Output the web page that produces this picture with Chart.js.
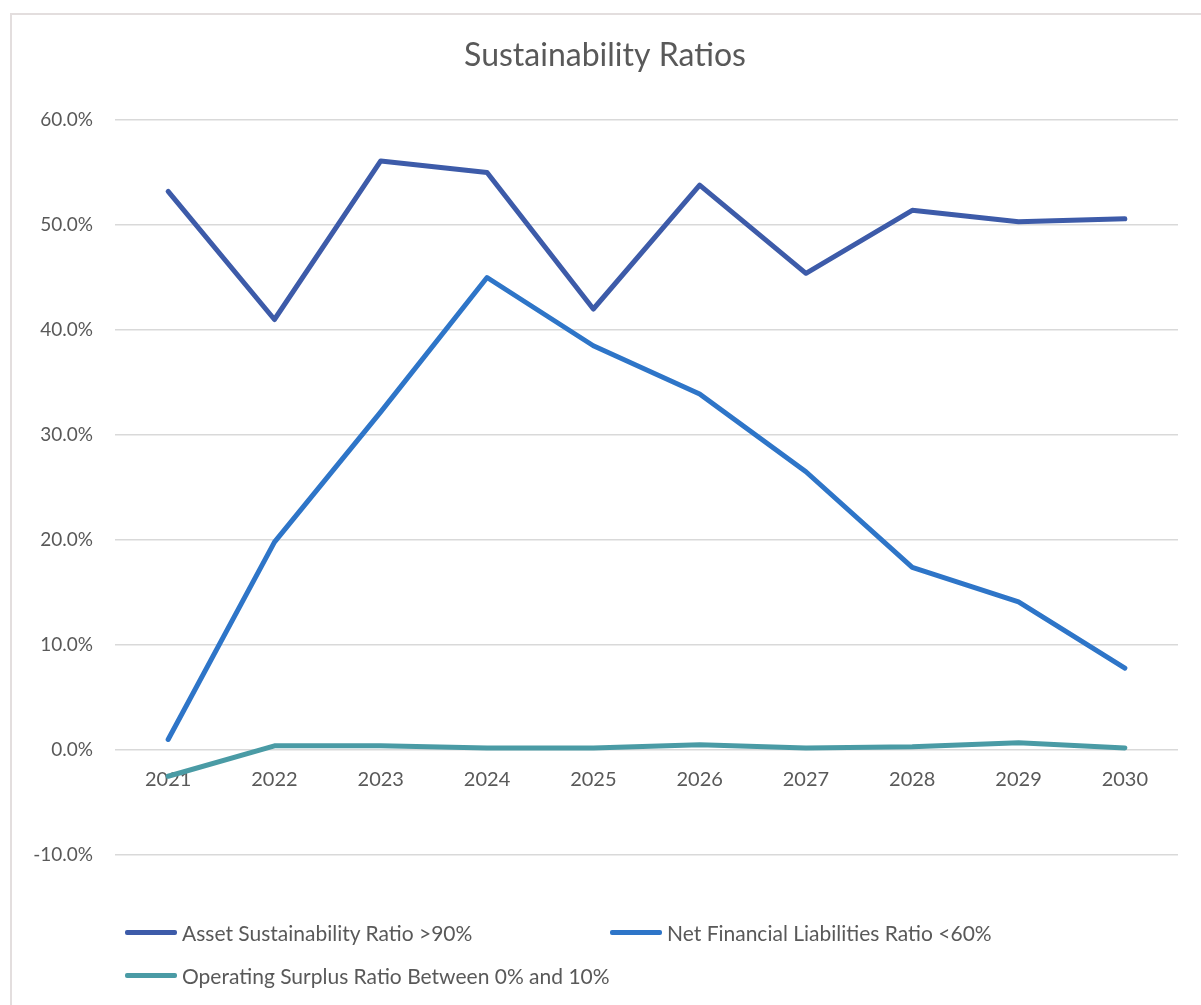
<!DOCTYPE html>
<html>
<head>
<meta charset="utf-8">
<script src="https://cdn.jsdelivr.net/npm/chart.js@4/dist/chart.umd.min.js"></script>
<style>
  html, body { margin: 0; padding: 0; background: #fff; }
  #wrap { position: relative; width: 1201px; height: 1005px; }
  #frame { position: absolute; left: 10px; top: 13px; right: 0; bottom: 0;
           border-left: 2px solid #e3dede; border-top: 2px solid #e3dede; }
  #ratiosChart { position: absolute; left: 0; top: 0; }
  #legend { position: absolute; left: 125px; top: 911px; display: grid;
            grid-template-columns: 485px 485px; grid-auto-rows: 43px;
            font-family: Lato, 'Noto Sans', sans-serif; font-size: 21px; color: #595959; }
  .item { display: flex; align-items: center; height: 43px; }
  .swatch { width: 52px; height: 5px; border-radius: 2px; margin-right: 5px; }
</style>
</head>
<body>
<div id="wrap">
  <div id="frame"></div>
  <canvas id="ratiosChart" width="1201" height="1005"></canvas>
  <div id="legend"></div>
</div>
<script>
const years = ['2021', '2022', '2023', '2024', '2025', '2026', '2027', '2028', '2029', '2030']
const assetSustainability = [53.2, 41.0, 56.1, 55.0, 42.0, 53.8, 45.4, 51.4, 50.3, 50.6]
const netFinancialLiabilities = [1.0, 19.8, 32.2, 45.0, 38.5, 33.9, 26.5, 17.4, 14.1, 7.8]
const operatingSurplus = [-2.5, 0.4, 0.4, 0.2, 0.2, 0.5, 0.2, 0.3, 0.7, 0.2]
const yTicks = [-10, 0, 10, 20, 30, 40, 50, 60]

const textGrey = '#595959'

const data = {
  labels: years,
  datasets: [{
    label: 'Asset Sustainability Ratio >90%',
    data: assetSustainability,
    borderColor: '#3d5ba9',
    backgroundColor: '#3d5ba9'
  },
  {
    label: 'Net Financial Liabilities Ratio <60%',
    data: netFinancialLiabilities,
    borderColor: '#2e75c8',
    backgroundColor: '#2e75c8'
  },
  {
    label: 'Operating Surplus Ratio Between 0% and 10%',
    data: operatingSurplus,
    borderColor: '#4a9ba5',
    backgroundColor: '#4a9ba5'
  }]
};

const ratiosConfig = {
  type: 'line',
  data: data,
  options: {
    responsive: false,
    animation: false,
    layout: { padding: { left: 32, right: 23, top: 0, bottom: 150 } },
    elements: {
      line: { borderWidth: 5, tension: 0, borderCapStyle: 'round', borderJoinStyle: 'round' },
      point: { radius: 0 }
    },
    plugins: {
      legend: { display: false },
      tooltip: { enabled: false },
      title: {
        display: true,
        text: 'Sustainability Ratios',
        color: textGrey,
        font: { family: 'Lato', size: 32, weight: 'normal', lineHeight: 1.2 },
        padding: { top: 36, bottom: 45.6 }
      }
    },
    scales: {
      x: {
        position: { y: 0 },
        offset: true,
        grid: { display: false, drawTicks: false },
        border: { display: false },
        ticks: { color: textGrey, font: { family: 'Lato', size: 20 }, padding: 18, maxRotation: 0 }
      },
      y: {
        min: -10,
        max: 60,
        afterFit: (scale) => { scale.width = 83 },
        afterBuildTicks: (scale) => { scale.ticks = yTicks.map(v => ({ value: v })) },
        grid: { color: '#d9d9d9', lineWidth: 1.5, drawTicks: false },
        border: { display: false },
        ticks: {
          color: textGrey,
          font: { family: 'Lato', size: 19 },
          padding: 22,
          callback: (v) => v.toFixed(1) + '%'
        }
      }
    }
  }
};

const ratiosChart = new Chart(
  document.getElementById('ratiosChart'),
  ratiosConfig
);

// legend laid out like the Excel one: two columns
const legendEl = document.getElementById('legend')
ratiosChart.data.datasets.forEach(ds => {
  const item = document.createElement('div')
  item.className = 'item'
  const sw = document.createElement('span')
  sw.className = 'swatch'
  sw.style.background = ds.borderColor
  const label = document.createElement('span')
  label.textContent = ds.label
  item.appendChild(sw)
  item.appendChild(label)
  legendEl.appendChild(item)
})
</script>
</body>
</html>
